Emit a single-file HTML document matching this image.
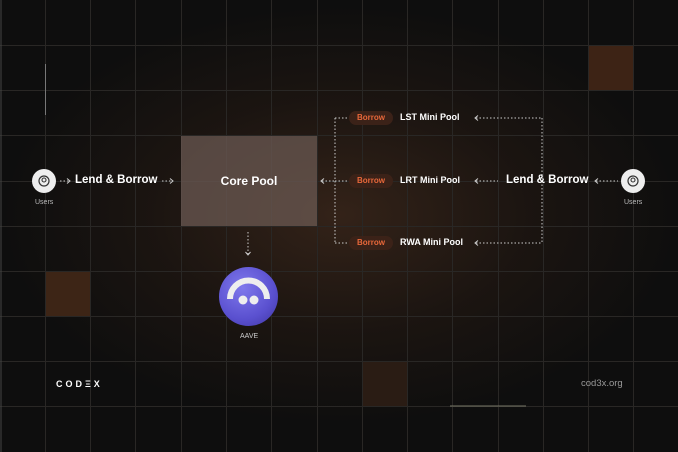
<!DOCTYPE html>
<html><head><style>
*{margin:0;padding:0;box-sizing:border-box}
body{width:678px;height:452px;overflow:hidden;background:#0e0e0e;font-family:"Liberation Sans",sans-serif;position:relative}
.glow{position:absolute;left:0;top:0;width:678px;height:452px;background:radial-gradient(ellipse 340px 210px at 340px 215px,rgba(58,38,26,0.85),rgba(38,26,19,0.55) 55%,rgba(14,14,14,0) 100%)}
.a{position:absolute}
.t{position:absolute;color:#fff;font-weight:bold;white-space:nowrap}
.pill{position:absolute;background:#3b2218;color:#e8683a;font-weight:bold;font-size:8px;border-radius:8px;width:44px;height:14px;line-height:14px;text-align:center}
.user{position:absolute;width:24px;height:24px;border-radius:50%;background:#eee}
.ul{position:absolute;color:#bbb;font-size:7px}
</style></head><body>
<div class="glow"></div>
<div class="a" style="left:588px;top:45px;width:45px;height:45px;background:#3d2315"></div>
<div class="a" style="left:45px;top:271px;width:45px;height:45px;background:#3d2516"></div>
<div class="a" style="left:362px;top:361px;width:45px;height:45px;background:#2a1c14"></div>
<svg class="a" style="left:0;top:0" width="678" height="452">
<g stroke="#292725" stroke-width="1">
<line x1="45.5" y1="0" x2="45.5" y2="452"/><line x1="90.5" y1="0" x2="90.5" y2="452"/><line x1="135.5" y1="0" x2="135.5" y2="452"/><line x1="181.5" y1="0" x2="181.5" y2="452"/><line x1="226.5" y1="0" x2="226.5" y2="452"/><line x1="271.5" y1="0" x2="271.5" y2="452"/><line x1="317.5" y1="0" x2="317.5" y2="452"/><line x1="362.5" y1="0" x2="362.5" y2="452"/><line x1="407.5" y1="0" x2="407.5" y2="452"/><line x1="452.5" y1="0" x2="452.5" y2="452"/><line x1="498.5" y1="0" x2="498.5" y2="452"/><line x1="543.5" y1="0" x2="543.5" y2="452"/><line x1="588.5" y1="0" x2="588.5" y2="452"/><line x1="633.5" y1="0" x2="633.5" y2="452"/>
<line x1="0" y1="45.5" x2="678" y2="45.5"/><line x1="0" y1="90.5" x2="678" y2="90.5"/><line x1="0" y1="135.5" x2="678" y2="135.5"/><line x1="0" y1="181.5" x2="678" y2="181.5"/><line x1="0" y1="226.5" x2="678" y2="226.5"/><line x1="0" y1="271.5" x2="678" y2="271.5"/><line x1="0" y1="316.5" x2="678" y2="316.5"/><line x1="0" y1="361.5" x2="678" y2="361.5"/><line x1="0" y1="406.5" x2="678" y2="406.5"/>
</g>
<line x1="45.5" y1="64" x2="45.5" y2="115" stroke="#777" stroke-width="1"/>
<line x1="450" y1="406" x2="526" y2="406" stroke="#776" stroke-width="1"/>
<line x1="1" y1="0" x2="1" y2="452" stroke="#444"/>
<g stroke="#ccc" stroke-width="1" stroke-dasharray="1.5 2" fill="none">
<line x1="60" y1="181" x2="70" y2="181"/>
<line x1="162" y1="181" x2="173" y2="181"/>
<line x1="322" y1="181" x2="335" y2="181"/>
<line x1="335" y1="118" x2="335" y2="243"/>
<line x1="335" y1="118" x2="348" y2="118"/>
<line x1="335" y1="181" x2="348" y2="181"/>
<line x1="335" y1="243" x2="348" y2="243"/>
<line x1="476" y1="118" x2="542" y2="118"/>
<line x1="542" y1="118" x2="542" y2="243"/>
<line x1="476" y1="243" x2="542" y2="243"/>
<line x1="476" y1="181" x2="498" y2="181"/>
<line x1="596" y1="181" x2="618" y2="181"/>
<line x1="248" y1="232" x2="248" y2="254"/>
</g>
<g stroke="#ccc" stroke-width="1" fill="none">
<polyline points="67,178.5 70,181 67,183.5"/>
<polyline points="170,178.5 173,181 170,183.5"/>
<polyline points="324,178.5 321,181 324,183.5"/>
<polyline points="478,115.5 475,118 478,120.5"/>
<polyline points="478,178.5 475,181 478,183.5"/>
<polyline points="478,240.5 475,243 478,245.5"/>
<polyline points="598,178.5 595,181 598,183.5"/>
<polyline points="245.5,252 248,255 250.5,252"/>
</g>
</svg>
<div class="a" style="left:181px;top:136px;width:136px;height:90px;background:rgba(110,92,84,0.72)"></div>
<div class="t" style="left:181px;top:174px;width:136px;text-align:center;font-size:12px">Core Pool</div>
<div class="user" style="left:32px;top:169px"></div>
<div class="user" style="left:621px;top:169px"></div>
<svg class="a" style="left:38px;top:175px" width="12" height="12"><circle cx="6" cy="6" r="5" stroke="#333" fill="none" stroke-width="1.2"/><circle cx="6" cy="5" r="2" stroke="#333" fill="none" stroke-width="1.1"/></svg>
<svg class="a" style="left:627px;top:175px" width="12" height="12"><circle cx="6" cy="6" r="5" stroke="#333" fill="none" stroke-width="1.2"/><circle cx="6" cy="5" r="2" stroke="#333" fill="none" stroke-width="1.1"/></svg>
<div class="ul" style="left:35px;top:199px">Users</div>
<div class="ul" style="left:624px;top:199px">Users</div>
<div class="t" style="left:75px;top:174px;font-size:11.5px">Lend &amp; Borrow</div>
<div class="t" style="left:506px;top:174px;font-size:11.5px">Lend &amp; Borrow</div>
<div class="pill" style="left:349px;top:111px">Borrow</div>
<div class="pill" style="left:349px;top:174px">Borrow</div>
<div class="pill" style="left:349px;top:236px">Borrow</div>
<div class="t" style="left:400px;top:112px;font-size:9px">LST Mini Pool</div>
<div class="t" style="left:400px;top:175px;font-size:9px">LRT Mini Pool</div>
<div class="t" style="left:400px;top:237px;font-size:9px">RWA Mini Pool</div>
<div class="a" style="left:219px;top:267px;width:59px;height:59px;border-radius:50%;background:radial-gradient(circle at 40% 35%,#7f78ec,#5a50cf 60%,#3d34a0)"></div>
<svg class="a" style="left:219px;top:267px" width="59" height="59"><path d="M11 32 A18 18 0 0 1 48 32" stroke="#eee" stroke-width="6" fill="none"/><circle cx="24" cy="33" r="4.5" fill="#eee"/><circle cx="35" cy="33" r="4.5" fill="#eee"/></svg>
<div class="ul" style="left:240px;top:333px;color:#ccc">AAVE</div>
<div class="t" style="left:56px;top:379px;font-size:9px;letter-spacing:3px">CODΞX</div>
<div class="a" style="left:581px;top:378px;color:#999;font-size:9.5px">cod3x.org</div>
</body></html>
